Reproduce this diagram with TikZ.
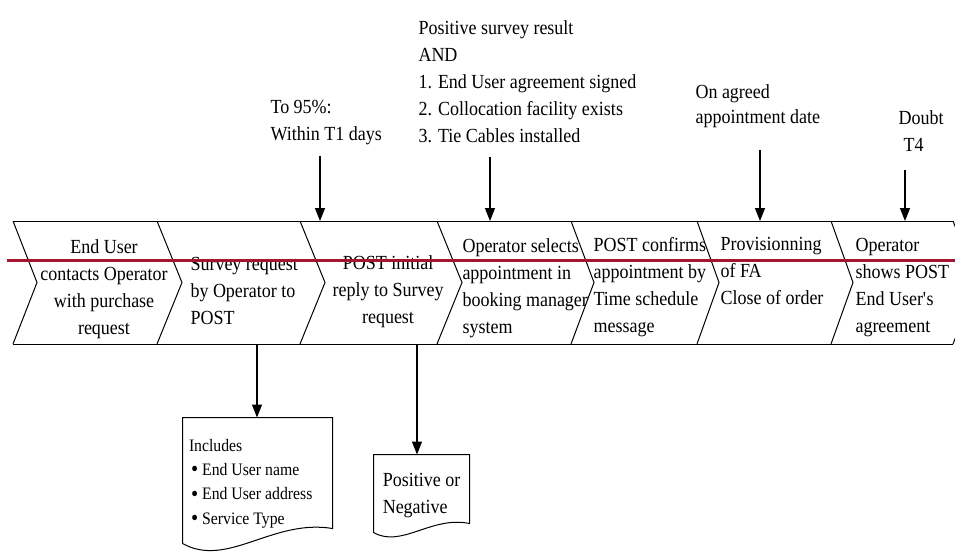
\documentclass[tikz,border=0pt]{standalone}
\usepackage{fontspec}
\setmainfont{Liberation Serif}[FakeStretch=0.9]
\usepackage{tikz}
\usetikzlibrary{positioning,arrows.meta}
\definecolor{cutred}{RGB}{163,22,48}
\tikzstyle{steptext} = [inner sep=0pt, align=left, anchor=west, font=\fontsize{20}{27}\selectfont]
\tikzstyle{note} = [inner sep=0pt, align=left, anchor=west, font=\fontsize{20}{27}\selectfont]
\tikzstyle{doc} = [rectangle, inner sep=0pt, align=left, font=\fontsize{20}{27}\selectfont]
\tikzstyle{arrow} = [line width=1.2pt, -{Triangle[width=10pt,length=13pt]}]
\newcommand{\dotitem}{\hspace*{2pt}\raisebox{-1.2pt}{\scalebox{1.3}{\textbullet}}\hspace{4pt}}

\begin{document}
\begin{tikzpicture}[x=1pt, y=-1pt, line width=1pt]
        \useasboundingbox (0,0) rectangle (955,552);

        \draw (13,221) -- (953,221) (13,344) -- (953,344);
        \foreach \x/\d in {13/24,157/25,300/25,437/25,571/23,697/22,831/22,953/24}
                \draw (\x,221) -- (\x+\d,282.5) -- (\x,344);

        \coordinate (top1) at (320,221);
        \coordinate (top2) at (490,221);
        \coordinate (top3) at (760,221);
        \coordinate (top4) at (905,221);
        \coordinate (bot1) at (257,344);
        \coordinate (bot2) at (417,344);

        \node (s1) [steptext, align=center, anchor=center] at (104,289) {End User\\contacts Operator\\with purchase\\request};
        \node (s2) [steptext] at (190,291) {Survey request\\by Operator to\\POST};
        \node (s3) [steptext, align=center, anchor=center] at (388,292) {POST initial\\reply to Survey\\request};
        \node (s4) [steptext] at (462,288) {Operator selects\\appointment in\\booking manager\\system};
        \node (s5) [steptext] at (593,287) {POST confirms\\appointment by\\Time schedule\\message};
        \node (s6) [steptext] at (720,271) {Provisionning\\of FA\\Close of order};
        \node (s7) [steptext] at (855,288) {Operator\\shows POST\\End User\textquotesingle s\\agreement};

        \node (t95) [note] at (270,123) {To 95\%:\\Within T1 days};
        \node (cond) [note] at (418,82) {Positive survey result\\AND\\1. End User agreement signed\\2. Collocation facility exists\\3. Tie Cables installed};
        \node (appt) [note, font=\fontsize{20}{25}\selectfont] at (695,106) {On agreed\\appointment date};
        \node (doubt) [note] at (898,131) {Doubt\\\hspace*{5pt}T4};

        \draw [arrow] ([yshift=-10pt]t95.south -| top1) -- (top1);
        \draw [arrow] ([yshift=-13pt]cond.south -| top2) -- (top2);
        \draw [arrow] ([yshift=-22pt]appt.south -| top3) -- (top3);
        \draw [arrow] ([yshift=-18pt]doubt.south -| top4) -- (top4);

        \node (incl) [doc, align=flush left, minimum width=149pt, minimum height=131pt, text width=137pt, font=\fontsize{17.5}{24.3}\selectfont] at (257.5,483.5) {Includes\\\dotitem End User name\\\dotitem End User address\\\dotitem Service Type};
        \node (posneg) [doc, minimum width=95pt, minimum height=81pt] at (421.5,495.5) {Positive or\\Negative};

        \draw (incl.north west) -- (incl.north east) -- ([yshift=21pt]incl.south east)
                .. controls +(-60,-10) and +(45,25) .. ([yshift=6pt]incl.south west) -- cycle;
        \draw (posneg.north west) -- (posneg.north east) -- ([yshift=13pt]posneg.south east)
                .. controls +(-38,-8) and +(28,16) .. ([yshift=4pt]posneg.south west) -- cycle;

        \draw [arrow] (bot1) -- (bot1 |- incl.north);
        \draw [arrow] (bot2) -- (bot2 |- posneg.north);

        \draw [cutred, line width=3pt] (7,260.5) -- (955,260.5);

\end{tikzpicture}
\end{document}
